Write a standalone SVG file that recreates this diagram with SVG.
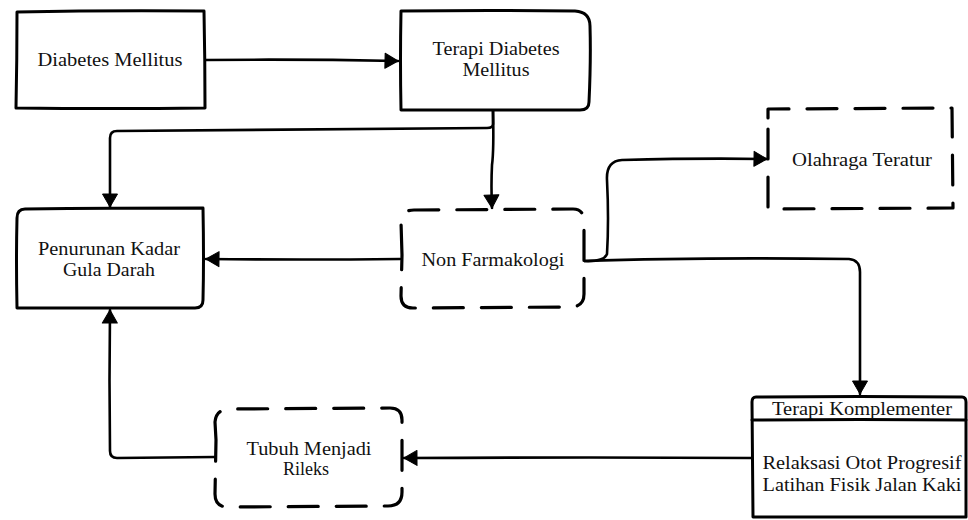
<svg xmlns="http://www.w3.org/2000/svg" width="968" height="520" viewBox="0 0 968 520">
<style>
  .box{fill:#ffffff;stroke:#000;stroke-width:3;stroke-linecap:round;stroke-linejoin:round}
  .dash{fill:#ffffff;stroke:#000;stroke-width:3.2;stroke-linecap:round;stroke-linejoin:round;stroke-dasharray:30 18}
  .con{fill:none;stroke:#000;stroke-width:2.6;stroke-linecap:round;stroke-linejoin:round}
  .t{font-family:"Liberation Serif","Times New Roman",serif;font-size:18px;fill:#111;text-anchor:middle}
</style>
<defs>
  <marker id="ah" markerUnits="userSpaceOnUse" markerWidth="18" markerHeight="18" viewBox="0 0 18 18" refX="15" refY="9" orient="auto">
    <path d="M2,1.5 L15,9 L2,16.5 Z" fill="#000" stroke="#000" stroke-width="1" stroke-linejoin="round"/>
  </marker>
</defs>

<g id="connectors">
  <path class="con" d="M205,60 Q300,59 398,61" marker-end="url(#ah)"/>
  <path class="con" d="M493,110 L493,124 Q493,128 487,128 Q300,129 117,131 Q110,131 110,138 L110,207" marker-end="url(#ah)"/>
  <path class="con" d="M493,110 Q494,150 492,165 Q491,185 492,208" marker-end="url(#ah)"/>
  <path class="con" d="M400,259 Q300,260 206,259" marker-end="url(#ah)"/>
  <path class="con" d="M584,261 Q604,262 607,254 Q609,220 607,180 Q606,161 622,160 Q700,158 767,159" marker-end="url(#ah)"/>
  <path class="con" d="M584,261 Q700,257 849,259 Q860,260 860,272 L860,394" marker-end="url(#ah)"/>
  <path class="con" d="M752,458 Q600,457 404,458" marker-end="url(#ah)"/>
  <path class="con" d="M215,457 L117,458 Q110,458 110,451 Q109,380 110,310" marker-end="url(#ah)"/>
</g>

<g id="diabetes-mellitus">
  <path class="box" d="M17,12 Q110,10 204,11 Q205,60 205,108 Q110,109 16,108 Q17,60 17,12 Z"/>
  <text class="t" x="110" y="66" textLength="145" lengthAdjust="spacingAndGlyphs">Diabetes Mellitus</text>
</g>

<g id="terapi-diabetes-mellitus">
  <path class="box" d="M401,11 Q490,10 575,11 Q590,12 590,26 Q591,60 589,102 Q589,110 580,110 Q490,110 401,110 Q400,60 401,11 Z"/>
  <text class="t" x="496" y="55" textLength="127" lengthAdjust="spacingAndGlyphs">Terapi Diabetes</text>
  <text class="t" x="496" y="76" textLength="67" lengthAdjust="spacingAndGlyphs">Mellitus</text>
</g>

<g id="penurunan-kadar-gula-darah">
  <path class="box" d="M25,209 Q110,208 203,208 Q204,260 203,300 Q203,308 195,308 Q110,308 17,308 Q16,260 17,218 Q17,209 25,209 Z"/>
  <text class="t" x="109" y="255" textLength="142" lengthAdjust="spacingAndGlyphs">Penurunan Kadar</text>
  <text class="t" x="109" y="276" textLength="92" lengthAdjust="spacingAndGlyphs">Gula Darah</text>
</g>

<g id="non-farmakologi">
  <path class="dash" d="M402,255 L401,222 Q401,210 414,210 L573,209 Q584,209 584,222 L584,294 Q584,307 570,307 L413,308 Q401,308 401,296 Z"/>
  <text class="t" x="493" y="266" textLength="143" lengthAdjust="spacingAndGlyphs">Non Farmakologi</text>
</g>

<g id="olahraga-teratur">
  <path class="dash" d="M768,118 L768,109 L952,108 L953,208 L768,209 Z"/>
  <text class="t" x="862" y="166" textLength="140" lengthAdjust="spacingAndGlyphs">Olahraga Teratur</text>
</g>

<g id="terapi-komplementer">
  <path class="box" d="M756,397 Q860,396 962,397 Q966,397 966,402 L966,517 L753,517 L752,402 Q752,397 756,397 Z"/>
  <path class="box" d="M752,420 Q860,419 966,420" fill="none"/>
  <text class="t" x="862" y="415" textLength="180" lengthAdjust="spacingAndGlyphs">Terapi Komplementer</text>
  <text class="t" x="862" y="469" textLength="199" lengthAdjust="spacingAndGlyphs">Relaksasi Otot Progresif</text>
  <text class="t" x="862" y="491" textLength="199" lengthAdjust="spacingAndGlyphs">Latihan Fisik Jalan Kaki</text>
</g>

<g id="tubuh-menjadi-rileks">
  <path class="dash" d="M216,440 L215,422 Q216,409 230,409 L390,408 Q402,408 402,420 L402,492 Q402,506 388,506 L228,507 Q215,507 215,494 Z"/>
  <text class="t" x="309" y="455" textLength="125" lengthAdjust="spacingAndGlyphs">Tubuh Menjadi</text>
  <text class="t" x="306" y="475" textLength="46" lengthAdjust="spacingAndGlyphs">Rileks</text>
</g>
</svg>
